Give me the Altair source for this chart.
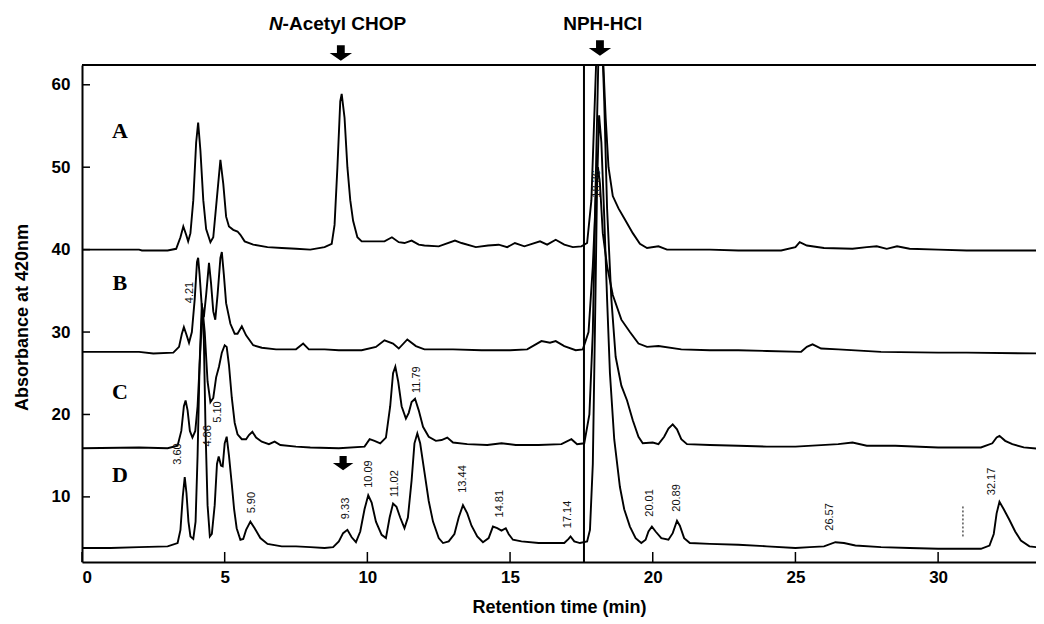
import altair as alt
import pandas as pd

# ---- chromatogram traces (retention time, absorbance) ----
A_t = [0, 1.0, 2.0, 2.1, 3.0, 3.3, 3.45, 3.55, 3.65, 3.72, 3.8, 3.9, 4.0, 4.07, 4.15, 4.25, 4.35, 4.5, 4.6, 4.72, 4.85, 4.95, 5.05, 5.15, 5.3, 5.45, 5.55, 5.7, 6.0, 6.5, 7.0, 7.5, 8.0, 8.5, 8.75, 8.85, 8.95, 9.05, 9.1, 9.2, 9.3, 9.4, 9.5, 9.65, 9.8, 10.2, 10.6, 10.86, 11.1, 11.3, 11.55, 11.8, 12.0, 12.5, 13.07, 13.3, 13.8, 14.23, 14.6, 14.9, 15.17, 15.5, 16.05, 16.3, 16.6, 16.9, 17.2, 17.5, 17.7, 17.85, 17.95, 18.05, 18.15, 18.25, 18.35, 18.45, 18.6, 18.8, 19.0, 19.3, 19.55, 19.8, 20.2, 20.5, 22.0, 23.0, 24.5, 25.0, 25.15, 25.4, 26.0, 27.0, 27.5, 27.85, 28.2, 28.56, 29.0, 30.0, 31.0, 33.7]
A_v = [40.0, 40.0, 40.0, 39.9, 39.9, 40.1, 41.5, 42.8, 41.8, 41.0, 42.0, 46.0, 53.0, 55.4, 52.0, 46.0, 42.5, 40.9, 41.5, 46.0, 50.9, 48.0, 44.0, 42.8, 42.4, 42.2, 41.8, 41.0, 40.6, 40.3, 40.2, 40.1, 40.0, 40.3, 40.7, 43.0, 50.0, 58.0, 58.9, 56.0, 50.0, 46.0, 43.5, 41.5, 41.0, 41.0, 41.0, 41.5, 40.9, 40.8, 41.1, 40.6, 40.5, 40.4, 41.1, 40.8, 40.3, 40.5, 40.6, 40.3, 40.8, 40.4, 41.0, 40.6, 41.2, 40.6, 40.3, 40.4, 40.8, 46.0, 56.0, 66.0, 70.0, 64.0, 56.0, 50.0, 46.5, 45.0, 43.8, 42.0, 40.7, 40.2, 40.4, 40.0, 40.0, 39.9, 39.9, 40.3, 40.9, 40.5, 40.2, 40.1, 40.3, 40.4, 40.1, 40.4, 40.1, 40.0, 39.9, 39.9]

B_t = [0, 2.0, 2.5, 3.2, 3.4, 3.5, 3.57, 3.65, 3.75, 3.85, 3.95, 4.03, 4.07, 4.12, 4.2, 4.27, 4.35, 4.45, 4.52, 4.6, 4.67, 4.75, 4.85, 4.9, 4.97, 5.05, 5.2, 5.35, 5.45, 5.6, 5.75, 6.0, 6.3, 6.8, 7.5, 7.75, 7.95, 8.5, 9.0, 9.8, 10.3, 10.6, 10.9, 11.1, 11.4, 11.7, 12.0, 13.0, 14.0, 15.0, 15.6, 16.1, 16.4, 16.6, 16.9, 17.3, 17.55, 17.75, 17.9, 18.0, 18.08, 18.15, 18.25, 18.4, 18.6, 18.9, 19.2, 19.5, 19.8, 20.2, 21.0, 22.0, 23.0, 24.0, 25.2, 25.4, 25.6, 25.9, 26.5, 28.0, 30.0, 31.0, 33.7]
B_v = [27.6, 27.6, 27.4, 27.5, 28.2, 29.8, 30.6, 29.8, 28.7, 30.0, 34.0, 38.5, 39.0, 37.0, 33.0, 31.8, 34.5, 38.4, 36.0, 32.5, 31.5, 34.5, 39.0, 39.7, 37.0, 33.5, 31.0, 29.8, 29.8, 30.7, 29.6, 28.4, 28.1, 27.9, 27.9, 28.6, 27.9, 27.9, 27.8, 27.8, 28.2, 29.0, 28.6, 28.0, 29.1, 28.3, 27.9, 27.9, 27.8, 27.8, 27.9, 28.9, 28.7, 28.9, 28.3, 27.8, 27.9, 30.0, 38.0, 46.0, 50.0, 48.0, 42.0, 38.0, 34.5, 31.5, 30.0, 28.6, 28.2, 28.3, 27.9, 27.8, 27.8, 27.7, 27.6, 28.2, 28.5, 28.0, 27.9, 27.6, 27.5, 27.5, 27.4]

C_t = [0, 2.0, 3.0, 3.35, 3.48, 3.57, 3.63, 3.7, 3.78, 3.87, 3.97, 4.05, 4.15, 4.22, 4.3, 4.4, 4.5, 4.6, 4.7, 4.8, 4.9, 5.0, 5.07, 5.15, 5.25, 5.35, 5.45, 5.6, 5.75, 5.85, 5.97, 6.1, 6.3, 6.55, 6.75, 6.95, 7.5, 8.0, 9.0, 9.9, 10.08, 10.25, 10.45, 10.65, 10.8, 10.9, 10.98, 11.08, 11.2, 11.35, 11.45, 11.55, 11.67, 11.8, 11.95, 12.15, 12.4, 12.6, 12.8, 13.0, 13.5, 14.2, 14.7, 15.2, 16.0, 16.8, 17.15, 17.35, 17.6, 17.78, 17.9, 18.0, 18.1, 18.2, 18.3, 18.4, 18.55, 18.7, 18.9, 19.1, 19.3, 19.5, 19.65, 20.0, 20.2, 20.4, 20.55, 20.7, 20.85, 21.0, 21.2, 22.0, 23.0, 24.0, 25.0, 26.5, 27.0, 27.5, 28.5, 30.0, 31.5, 31.9, 32.05, 32.15, 32.35, 32.6, 33.0, 33.7]
C_v = [15.9, 16.0, 15.9, 16.2, 18.0, 21.0, 21.7, 20.5, 18.0, 17.2, 18.0, 21.0, 28.0, 33.0, 30.0, 24.0, 21.5, 22.0, 24.5, 25.8, 27.5, 28.4, 28.2, 26.0, 22.0, 19.0, 17.6, 17.0, 17.0, 17.5, 17.9, 17.2, 16.7, 16.4, 16.7, 16.3, 16.1, 16.0, 15.9, 16.1, 17.0, 16.8, 16.5, 17.2, 21.0, 25.0, 25.8, 24.0, 21.0, 19.5, 20.2, 21.5, 21.9, 20.5, 18.5, 17.3, 16.8, 16.9, 17.2, 16.6, 16.4, 16.3, 16.5, 16.3, 16.3, 16.4, 17.0, 16.4, 16.5, 20.0, 30.0, 48.0, 64.0, 68.0, 58.0, 45.0, 34.0, 27.0, 23.5, 21.7, 19.3, 17.3, 16.5, 16.6, 16.4, 17.3, 18.3, 18.8, 18.2, 17.0, 16.4, 16.3, 16.2, 16.1, 16.1, 16.4, 16.6, 16.2, 16.2, 16.0, 16.0, 16.5, 17.2, 17.4, 16.8, 16.4, 16.0, 15.8]

D_t = [0, 1.0, 2.0, 3.0, 3.35, 3.45, 3.53, 3.6, 3.66, 3.73, 3.8, 3.9, 3.98, 4.05, 4.12, 4.2, 4.27, 4.33, 4.4, 4.48, 4.55, 4.65, 4.73, 4.79, 4.87, 4.93, 5.0, 5.07, 5.15, 5.25, 5.33, 5.42, 5.55, 5.65, 5.75, 5.9, 6.05, 6.25, 6.5, 7.0, 7.5, 8.0, 8.5, 8.8, 9.0, 9.15, 9.3, 9.45, 9.6, 9.75, 9.9, 10.03, 10.15, 10.3, 10.5, 10.65, 10.78, 10.9, 11.02, 11.15, 11.3, 11.42, 11.55, 11.65, 11.75, 11.85, 12.0, 12.15, 12.3, 12.5, 12.65, 12.85, 13.05, 13.2, 13.35, 13.5, 13.65, 13.85, 14.05, 14.25, 14.4, 14.55, 14.7, 14.85, 14.95, 15.1, 15.4, 16.0, 16.5, 16.9, 17.05, 17.12, 17.25, 17.45, 17.7, 17.8, 17.9, 18.0, 18.05, 18.12, 18.2, 18.3, 18.4, 18.5, 18.65, 18.85, 19.0, 19.2, 19.4, 19.6, 19.75, 19.85, 19.97, 20.1, 20.3, 20.55, 20.7, 20.85, 20.95, 21.1, 21.3, 22.0, 23.0, 24.0, 25.0, 25.5, 26.0, 26.4, 26.7, 27.1, 28.0, 29.0, 30.0, 31.5, 31.8, 31.95, 32.05, 32.15, 32.3, 32.5, 32.7, 32.9, 33.2, 33.7]
D_v = [3.8, 3.8, 3.9, 4.0, 4.4, 6.0, 10.0, 12.4, 10.5, 7.0, 5.2, 4.9, 7.0, 15.0, 26.0, 33.5, 29.0, 18.0, 9.0, 5.2, 5.5, 9.0, 14.0, 14.9, 13.8, 13.7, 16.5, 17.3, 15.0, 11.5, 8.5, 6.2, 4.8, 4.9, 6.0, 7.0, 6.2, 5.0, 4.3, 4.0, 4.0, 3.9, 3.8, 3.9, 4.6, 5.6, 6.0, 5.1, 4.5, 5.8, 8.5, 10.2, 9.3, 7.0, 5.4, 5.0, 7.5, 9.2, 8.8, 7.5, 6.2, 7.5, 12.0, 16.5, 17.7, 16.5, 13.0, 9.5, 7.0, 5.0, 4.4, 4.6, 5.5, 7.5, 9.0, 8.0, 6.5, 5.2, 4.5, 5.0, 6.4, 6.2, 5.9, 6.2, 5.5, 4.8, 4.6, 4.4, 4.4, 4.4, 4.9, 5.2, 4.6, 4.4, 4.6, 6.0, 14.0, 36.0, 48.0, 56.3, 53.0, 44.0, 34.0, 25.0, 17.0, 11.2, 8.5, 6.4, 5.0, 4.4, 4.8, 5.8, 6.4, 5.8, 5.0, 4.8, 5.6, 7.1, 6.5, 5.0, 4.4, 4.3, 4.2, 4.0, 3.8, 3.9, 4.0, 4.5, 4.4, 4.1, 3.9, 3.8, 3.7, 3.7, 4.1, 5.5, 8.0, 9.4, 8.5, 7.2, 5.8, 4.7, 4.0, 3.8]

# ---- peak labels (text, time position, absorbance at label foot) ----
peak_text = ["3.60", "4.21", "4.86", "5.10", "5.90", "9.33", "10.09", "11.02", "11.79", "13.44", "14.81", "17.14", "18.36", "20.01", "20.89", "26.57", "32.17"]
peak_t = [3.36, 3.78, 4.42, 4.76, 5.94, 9.25, 10.06, 10.97, 11.73, 13.35, 14.65, 17.03, 18.05, 19.9, 20.85, 26.2, 31.9]
peak_v = [13.9, 33.5, 16.1, 19.0, 8.0, 7.3, 11.1, 10.0, 22.6, 10.5, 7.5, 6.2, 46.3, 7.6, 8.2, 5.9, 10.2]

# ---- trace letters ----
letter_text = ["A", "B", "C", "D"]
letter_t = [1.33, 1.33, 1.33, 1.33]
letter_v = [54.4, 35.9, 22.7, 12.7]

x_ticks = [0, 5, 10, 15, 20, 25, 30]
y_ticks = [10, 20, 30, 40, 50, 60]
X_DOMAIN = [0, 33.43]
Y_DOMAIN = [2.1, 62.4]
W, H = 954, 497
FONT = "Liberation Sans"

rows = []
for name, ts, vs in [("A", A_t, A_v), ("B", B_t, B_v), ("C", C_t, C_v), ("D", D_t, D_v)]:
    for i, (t, v) in enumerate(zip(ts, vs)):
        rows.append({"trace": name, "i": i, "t": t, "v": v})
traces = pd.DataFrame(rows)
peaks = pd.DataFrame({"label": peak_text, "t": peak_t, "v": peak_v})
letters = pd.DataFrame({"label": letter_text, "t": letter_t, "v": letter_v})

xs = alt.Scale(domain=X_DOMAIN, nice=False, zero=False)
ys = alt.Scale(domain=Y_DOMAIN, nice=False, zero=False)

lines = alt.Chart(traces).mark_line(clip=True, color="black", strokeWidth=1.9).encode(
    x=alt.X("t:Q", scale=xs, axis=alt.Axis(
        values=x_ticks, title="Retention time (min)", format="d",
        labelFont=FONT, labelFontSize=17, labelFontWeight="bold", labelColor="black",
        labelPadding=7, ticks=False, domainColor="black", domainWidth=2, grid=False,
        titleFont=FONT, titleFontSize=18, titleFontWeight="bold", titleColor="black",
        titleX=477, titleY=45, titleBaseline="middle")),
    y=alt.Y("v:Q", scale=ys, axis=alt.Axis(
        values=y_ticks, title="Absorbance at 420nm", format="d",
        labelFont=FONT, labelFontSize=17, labelFontWeight="bold", labelColor="black",
        labelPadding=12, ticks=False, domainColor="black", domainWidth=2, grid=False,
        titleFont=FONT, titleFontSize=18, titleFontWeight="bold", titleColor="black",
        titleAngle=270, titleX=-60, titleY=252, titleAlign="center", titleBaseline="middle")),
    detail="trace:N",
    order="i:Q",
)

xtick_df = pd.DataFrame({"t": x_ticks})
ytick_df = pd.DataFrame({"v": y_ticks})
xtick_marks = alt.Chart(xtick_df).mark_rule(color="black", strokeWidth=1.5).encode(
    x=alt.X("t:Q", scale=xs), y=alt.value(H), y2=alt.value(H - 10))
ytick_marks = alt.Chart(ytick_df).mark_rule(color="black", strokeWidth=1.5).encode(
    y=alt.Y("v:Q", scale=ys), x=alt.value(0), x2=alt.value(8))

top_border = alt.Chart(pd.DataFrame({"k": [0]})).mark_rule(color="black", strokeWidth=2).encode(
    x=alt.value(0), x2=alt.value(W), y=alt.value(0))

vline = alt.Chart(pd.DataFrame({"t": [17.59]})).mark_rule(color="black", strokeWidth=2).encode(
    x=alt.X("t:Q", scale=xs), y=alt.value(0), y2=alt.value(H))

dash = alt.Chart(pd.DataFrame({"t": [30.87], "v": [5.2], "v2": [9.0]})).mark_rule(
    color="black", strokeWidth=1, strokeDash=[2, 2]).encode(
    x=alt.X("t:Q", scale=xs), y=alt.Y("v:Q", scale=ys), y2="v2:Q")

peak_labels = alt.Chart(peaks).mark_text(
    angle=270, align="left", baseline="middle", font=FONT, fontSize=11, color="#111").encode(
    x=alt.X("t:Q", scale=xs), y=alt.Y("v:Q", scale=ys), text="label:N")

letter_marks = alt.Chart(letters).mark_text(
    font="Liberation Serif", fontSize=22, fontWeight="bold", color="black").encode(
    x=alt.X("t:Q", scale=xs), y=alt.Y("v:Q", scale=ys), text="label:N")

ARROW = "M-0.35,-0.7L0.35,-0.7L0.35,0L1,0L0,0.7L-1,0L-0.35,0Z"
arrow_top = alt.Chart(pd.DataFrame({"t": [9.07, 18.15], "py": [-12, -17]})).mark_point(
    shape=ARROW, filled=True, size=500, color="black", opacity=1, strokeWidth=0).encode(
    x=alt.X("t:Q", scale=xs), y=alt.Y("py:Q", scale=None))
arrow_in = alt.Chart(pd.DataFrame({"t": [9.15], "v": [14.1]})).mark_point(
    shape=ARROW, filled=True, size=420, color="black", opacity=1, strokeWidth=0).encode(
    x=alt.X("t:Q", scale=xs), y=alt.Y("v:Q", scale=ys))

ann_italic = alt.Chart(pd.DataFrame({"t": [7.03], "s": ["N"]})).mark_text(
    font=FONT, fontSize=19, fontWeight="bold", fontStyle="italic", align="right",
    baseline="middle", color="black").encode(
    x=alt.X("t:Q", scale=xs), y=alt.value(-41), text="s:N")
ann_rest = alt.Chart(pd.DataFrame({"t": [7.03], "s": ["-Acetyl CHOP"]})).mark_text(
    font=FONT, fontSize=19, fontWeight="bold", align="left",
    baseline="middle", color="black").encode(
    x=alt.X("t:Q", scale=xs), y=alt.value(-41), text="s:N")
ann_nph = alt.Chart(pd.DataFrame({"t": [18.25], "s": ["NPH-HCl"]})).mark_text(
    font=FONT, fontSize=19, fontWeight="bold", align="center",
    baseline="middle", color="black").encode(
    x=alt.X("t:Q", scale=xs), y=alt.value(-41), text="s:N")

chart = alt.layer(
    lines, xtick_marks, ytick_marks, top_border, vline, dash, peak_labels, letter_marks,
    arrow_top, arrow_in, ann_italic, ann_rest, ann_nph
).properties(
    width=W, height=H,
    autosize=alt.AutoSizeParams(type="none"),
    padding={"left": 74, "top": 57, "right": 0, "bottom": 59},
    background="white",
).configure_view(stroke=None)

chart.save("out.html", embed_options={"renderer": "svg", "actions": False})
